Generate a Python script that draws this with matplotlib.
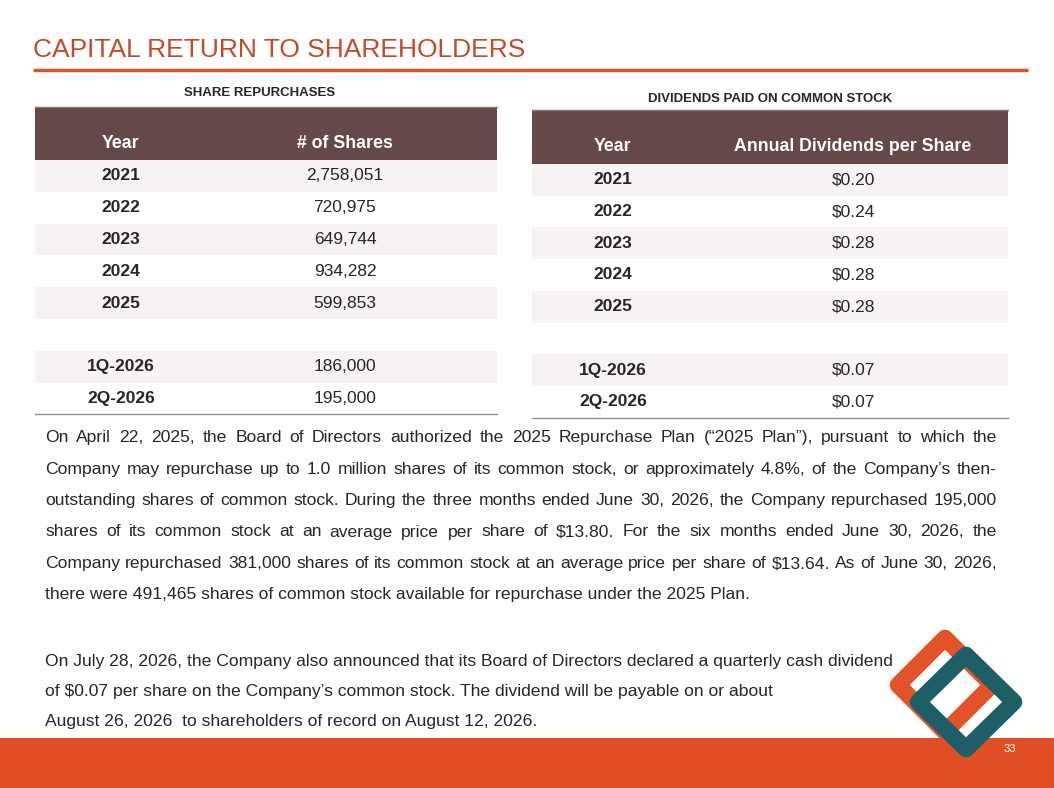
import matplotlib
matplotlib.use("Agg")
import matplotlib.pyplot as plt
from matplotlib.patches import Rectangle, Polygon

plt.rcParams['font.family'] = ['Liberation Sans', 'DejaVu Sans']

# ---- data ----
rep_years = ["2021", "2022", "2023", "2024", "2025", "", "1Q-2026", "2Q-2026"]
rep_shares = ["2,758,051", "720,975", "649,744", "934,282", "599,853", "", "186,000", "195,000"]
div_years = ["2021", "2022", "2023", "2024", "2025", "", "1Q-2026", "2Q-2026"]
div_values = ["$0.20", "$0.24", "$0.28", "$0.28", "$0.28", "", "$0.07", "$0.07"]

para1 = [
    "On April 22, 2025, the Board of Directors authorized the 2025 Repurchase Plan (\u201c2025 Plan\u201d), pursuant to which the",
    "Company may repurchase up to 1.0 million shares of its common stock, or approximately 4.8%, of the Company\u2019s then-",
    "outstanding shares of common stock. During the three months ended June 30, 2026, the Company repurchased 195,000",
    "shares of its common stock at an average price per share of $13.80. For the six months ended June 30, 2026, the",
    "Company repurchased 381,000 shares of its common stock at an average price per share of $13.64. As of June 30, 2026,",
    "there were 491,465 shares of common stock available for repurchase under the 2025 Plan.",
]
para2 = [
    "On July 28, 2026, the Company also announced that its Board of Directors declared a quarterly cash dividend",
    "of $0.07 per share on the Company\u2019s common stock. The dividend will be payable on or about",
    "August 26, 2026  to shareholders of record on August 12, 2026.",
]

BROWN = "#654848"
STRIPE = "#F8F3F3"
ORANGE = "#E04E25"
TEAL = "#1E5E66"
TXT = "#262626"
FS = 12.6

W, H = 1054, 788
fig = plt.figure(figsize=(W / 100, H / 100), dpi=100)
ax = fig.add_axes([0, 0, 1, 1])
ax.set_xlim(0, W)
ax.set_ylim(H, 0)
ax.axis('off')

# title
ax.text(33, 50, "CAPITAL RETURN TO SHAREHOLDERS", fontsize=19, color="#C24B2A", va='center')
ax.plot([33, 1028], [70, 70], color="#D8542C", lw=2.5, solid_capstyle='butt')


def draw_table(x0, x1, top, hdr_h, row_h, col_x, headers, col1, col2, title, title_x, title_y):
    ax.text(title_x, title_y, title, fontsize=9.5, fontweight='bold', color=TXT, ha='center', va='center')
    ax.add_patch(Rectangle((x0, top), x1 - x0, hdr_h, color=BROWN, lw=0))
    ax.plot([x0, x1], [top, top], color="#8a7474", lw=1)
    for cx, h in zip(col_x, headers):
        ax.text(cx, top + hdr_h * 0.68, h, fontsize=12.8, fontweight='bold', color='white',
                ha='center', va='center')
    y = top + hdr_h
    for i, (a, b) in enumerate(zip(col1, col2)):
        if a and i % 2 == 0:
            ax.add_patch(Rectangle((x0, y), x1 - x0, row_h, color=STRIPE, lw=0))
        if a:
            ax.text(col_x[0], y + row_h / 2, a, fontsize=12.5, fontweight='bold', color=TXT,
                    ha='center', va='center')
            ax.text(col_x[1], y + row_h / 2, b, fontsize=12.5, color=TXT, ha='center', va='center',
                    parse_math=False)
        y += row_h
    ax.plot([x0, x1], [y, y], color="#9a8a8a", lw=1)


draw_table(35, 497, 107, 53, 31.8, [121, 345], ["Year", "# of Shares"], rep_years, rep_shares,
           "SHARE REPURCHASES", 260, 93)
draw_table(532, 1008, 110, 54, 31.7, [613, 853], ["Year", "Annual Dividends per Share"], div_years,
           div_values, "DIVIDENDS PAID ON COMMON STOCK", 770, 99)

# justified paragraph
fig.canvas.draw()
rend = fig.canvas.get_renderer()


def width_of(s):
    t = ax.text(0, 0, s, fontsize=FS, parse_math=False)
    bb = t.get_window_extent(rend)
    t.remove()
    return bb.width  # pixels == data units here


left, right = 45, 997
y = 442
for k, line in enumerate(para1):
    words = line.split(" ")
    if k == len(para1) - 1:
        ax.text(left, y, line, fontsize=FS, color=TXT, va='baseline', parse_math=False)
    else:
        ws = [width_of(w) for w in words]
        gap = (right - left - sum(ws)) / (len(words) - 1)
        x = left
        for w, wd in zip(words, ws):
            ax.text(x, y, w, fontsize=FS, color=TXT, va='baseline', parse_math=False)
            x += wd + gap
    y += 31.5

y = 666
for line in para2:
    ax.text(left, y, line, fontsize=FS, color=TXT, va='baseline', parse_math=False)
    y += 30

# footer bar
ax.add_patch(Rectangle((0, 738), W, 50, color=ORANGE, lw=0))
ax.text(1016, 749, "33", fontsize=8, color='white', ha='right', va='center')

# logo
ax.add_patch(Polygon([(945, 638), (992, 685), (945, 732), (898, 685)], closed=True, fill=False,
                     edgecolor="#E2532A", lw=12, joinstyle='round'))
ax.add_patch(Polygon([(966, 655), (1014, 702), (966, 749), (918, 702)], closed=True, fill=False,
                     edgecolor=TEAL, lw=12, joinstyle='round'))

fig.savefig("out.png", dpi=100)
